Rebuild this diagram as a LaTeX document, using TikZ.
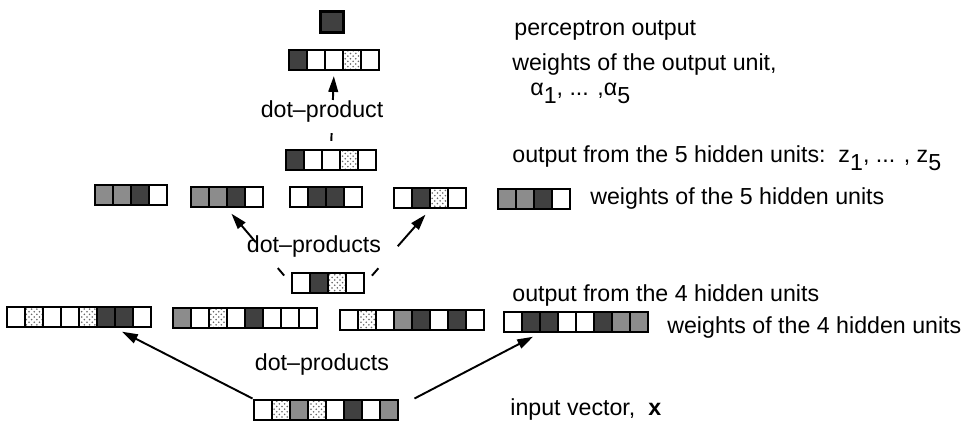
\documentclass[tikz,border=0pt]{standalone}
\usepackage{fontspec}
\setmainfont{Liberation Sans}
\usetikzlibrary{arrows.meta,calc,fit,patterns}

\tikzset{
  cell/.style={draw=black, line width=1.1pt},
  wh/.style={fill=white},
  dk/.style={fill=black!75},
  gr/.style={fill=black!45},
  ck/.style={pattern=crosshatch dots, pattern color=black!60},
  vframe/.style={draw=black, line width=1.7pt, inner sep=0pt},
  stub/.style={line width=1.1pt},
  conn/.style={line width=1.1pt, -{Triangle[length=9pt,width=5.5pt]}},
  lbl/.style={font=\fontsize{13.2}{15}\selectfont, inner sep=0pt}
}
\newcommand{\lowsub}[1]{\raisebox{-0.6ex}{#1}}
% a row of weight cells, #1 name, #2 left, #3 top, #4 number of cells, #5 fills
\newcommand{\cellvec}[5]{%
  \foreach \cl [count=\k] in {#5}
    \draw[cell, \cl] ({#2+(\k-1)*18}, #3) rectangle ++(18, 20);
  \node[vframe, fit={(#2,#3) ({#2+#4*18},{#3+20})}] (#1) {};
}

\begin{document}
\begin{tikzpicture}[x=0.02cm, y=-0.02cm]
\useasboundingbox (0,0) rectangle (964,425);

% perceptron output and its weights
\node[cell, dk, line width=1.6pt, minimum width=13pt, minimum height=12pt, inner sep=0pt] (pout) at (332,22) {};
\cellvec{ow}{289}{50}{5}{dk,wh,wh,ck,wh}
\cellvec{hout}{286}{150}{5}{dk,wh,wh,ck,wh}

% weights of the 5 hidden units
\cellvec{v1}{95}{185}{4}{gr,gr,dk,wh}
\cellvec{v2}{191}{187}{4}{gr,gr,dk,wh}
\cellvec{v3}{290}{187}{4}{wh,dk,dk,wh}
\cellvec{v4}{394}{188}{4}{wh,dk,ck,wh}
\cellvec{v5}{498}{189}{4}{gr,gr,dk,wh}

\cellvec{mid}{292}{273}{4}{wh,dk,ck,wh}

% weights of the 4 hidden units
\cellvec{w1}{7}{307}{8}{wh,ck,wh,wh,ck,dk,dk,wh}
\cellvec{w2}{173}{308}{8}{gr,wh,ck,wh,dk,wh,wh,wh}
\cellvec{w3}{340}{310}{8}{wh,ck,wh,gr,dk,wh,dk,wh}
\cellvec{w4}{504}{312}{8}{wh,dk,dk,wh,wh,dk,gr,gr}

\cellvec{in}{254}{400}{8}{wh,ck,gr,ck,wh,dk,wh,gr}

% dot products
\node[lbl, anchor=base] (dp1) at (322,118) {dot--product};
\node[lbl, anchor=base] (dp2) at (314,253) {dot--products};
\node[lbl, anchor=base] (dp3) at (322,371) {dot--products};

\draw[stub] ($(hout.north)!0.1!(ow.south)$) -- ($(hout.north)!0.2!(ow.south)$);
\draw[conn] ($(hout.north)!0.63!(ow.south)$) -- ($(hout.north)!0.94!(ow.south)$);

\draw[stub] ($(mid.west)!0.1!(v2.south)$) -- ($(mid.west)!0.2!(v2.south)$);
\draw[conn] ($(mid.west)!0.55!(v2.south)$) -- ($(mid.west)!0.93!(v2.south)$);
\draw[stub] ($(mid.east)!0.1!(v4.south)$) -- ($(mid.east)!0.2!(v4.south)$);
\draw[conn] ($(mid.east)!0.5!(v4.south)$) -- ($(mid.east)!0.93!(v4.south)$);

\draw[conn, shorten >=4pt] (in.north west) -- ($(w1.south)!0.5!(w1.south east)$);
\draw[conn, shorten >=4pt] ($(in.north east)+(15,0)$) -- ($(w4.south west)!0.5!(w4.south)$);

% texts on the right
\node[lbl, anchor=base west] (tpo) at (514,36) {perceptron output};
\node[lbl, anchor=base west] (two) at (512,71) {weights of the output unit,};
\node[lbl, anchor=base west] (tal) at (530,96) {α\lowsub{1}, ... ,α\lowsub{5}};
\node[lbl, anchor=base west] (th5) at (512,163) {output from the 5 hidden units:\ \ z\lowsub{1}, ... , z\lowsub{5}};
\node[lbl, anchor=base west] (tw5) at (590,205) {weights of the 5 hidden units};
\node[lbl, anchor=base west] (th4) at (512,302) {output from the 4 hidden units};
\node[lbl, anchor=base west] (tw4) at (667,334) {weights of the 4 hidden units};
\node[lbl, anchor=base west] (tin) at (510,416) {input vector,\ \ \textbf{x}};

\end{tikzpicture}
\end{document}
